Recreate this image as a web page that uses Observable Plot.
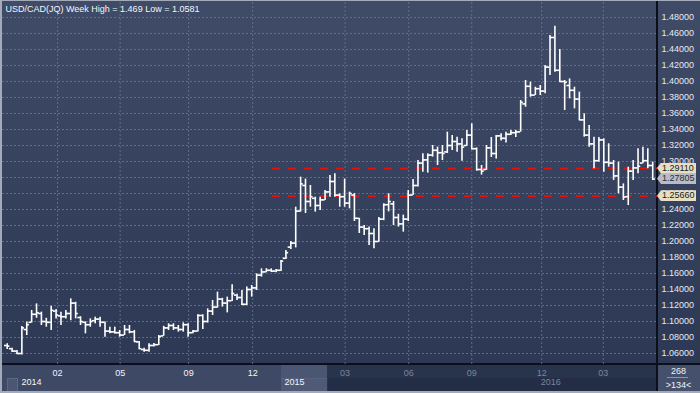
<!DOCTYPE html>
<html><head><meta charset="utf-8">
<script src="https://cdn.jsdelivr.net/npm/d3@7"></script>
<script src="https://cdn.jsdelivr.net/npm/@observablehq/plot@0.6"></script>
<style>
html,body{margin:0;padding:0;background:#2c3854;}
#wrap{position:relative;width:700px;height:393px;overflow:hidden;font-family:"Liberation Sans",Arial,sans-serif;}
.bg{position:absolute;}
#wrap svg{position:absolute;left:0;top:0;}
.info{position:absolute;color:#f2f4f8;font-size:9px;text-align:center;width:43px;left:657px;}
.tag{position:absolute;left:657px;width:39px;height:11px;font-size:9px;line-height:11px;padding-left:5px;box-sizing:border-box;
  clip-path:polygon(0 50%,4px 0,100% 0,100% 100%,4px 100%);}
</style></head><body>
<div id="wrap">
  <div class="bg" style="left:0;top:0;width:700px;height:365px;background:linear-gradient(#3f4b67,#2c3854);"></div>
  <div class="bg" style="left:0;top:365px;width:281px;height:28px;background:#3d4965;"></div>
  <div class="bg" style="left:281px;top:365px;width:47px;height:28px;background:#4a5672;"></div>
  <div class="bg" style="left:281px;top:378px;width:46px;height:15px;background:#4e5a76;border-top:1px solid #56627e;"></div>
  <div class="bg" style="left:327px;top:365px;width:1px;height:28px;background:#2a344c;"></div>
  <div class="bg" style="left:328px;top:365px;width:329px;height:13px;background:#28334c;"></div>
  <div class="bg" style="left:328px;top:378px;width:329px;height:15px;background:#232d45;"></div>
  <div class="bg" style="left:7px;top:378px;width:9px;height:13px;background:#4a5672;border:1px solid #5b6783;"></div>
  <div class="bg" style="left:657px;top:365px;width:43px;height:28px;background:#44506c;"></div>
  <div class="bg" style="left:0;top:363px;width:700px;height:2px;background:#0b0f1a;"></div>
  <div class="bg" style="left:656px;top:0;width:2px;height:393px;background:#0b0f1a;"></div>
  <div class="bg" style="left:667px;top:377px;width:21px;height:1px;background:#8d95a6;"></div>
  <div class="info" style="top:366px;">268</div>
  <div class="info" style="top:380px;">&gt;134&lt;</div>
  <div class="bg" style="left:0;top:0;width:2px;height:393px;background:#a3abbb;"></div>
  <div class="bg" style="left:0;top:0;width:700px;height:1px;background:#a3abbb;"></div>
  <div class="bg" style="left:0;top:391px;width:700px;height:2px;background:#a3abbb;"></div>
</div>
<script>
const title = "USD/CAD(JQ) Week High = 1.469 Low = 1.0581";

const openP = [1.0700,1.0660,1.0630,1.0600,1.0900,1.0990,1.1090,1.1100,1.1000,1.0990,
1.1130,1.1070,1.1060,1.1100,1.1230,1.1050,1.0990,1.0960,1.1010,1.1030,
1.0990,1.0880,1.0870,1.0860,1.0830,1.0900,1.0870,1.0745,1.0650,1.0640,
1.0700,1.0710,1.0820,1.0920,1.0950,1.0920,1.0900,1.0960,1.0860,1.0880,
1.1075,1.1000,1.1130,1.1180,1.1280,1.1230,1.1260,1.1330,1.1300,1.1215,
1.1400,1.1420,1.1580,1.1620,1.1640,1.1630,1.1640,1.1790,1.1930,1.1980,
1.2380,1.2700,1.2500,1.2540,1.2450,1.2520,1.2620,1.2750,1.2580,1.2560,
1.2480,1.2580,1.2290,1.2180,1.2160,1.2100,1.2000,1.2280,1.2460,1.2470,
1.2300,1.2220,1.2280,1.2580,1.2700,1.2980,1.3020,1.3080,1.3140,1.3110,
1.3120,1.3200,1.3250,1.3220,1.3200,1.3330,1.3160,1.2900,1.2900,1.3170,
1.3100,1.3320,1.3290,1.3340,1.3360,1.3370,1.3720,1.3940,1.3830,1.3910,
1.3880,1.4180,1.4550,1.4140,1.4000,1.3950,1.3890,1.3780,1.3520,1.3330,
1.3220,1.3010,1.3270,1.2990,1.2980,1.2820,1.2680,1.2560,1.2880,1.2920,
1.2980,1.3010,1.2950];
const highP = [1.0721,1.0667,1.0638,1.0938,1.0992,1.1138,1.1220,1.1117,1.1040,1.1190,
1.1150,1.1117,1.1138,1.1283,1.1240,1.1060,1.0995,1.1033,1.1054,1.1054,
1.0995,1.0929,1.0929,1.0888,1.0950,1.0950,1.0888,1.0750,1.0667,1.0721,
1.0725,1.0825,1.0940,1.0971,1.0971,1.0950,1.0983,1.0971,1.0888,1.1083,
1.1083,1.1158,1.1263,1.1367,1.1290,1.1305,1.1458,1.1340,1.1388,1.1430,
1.1450,1.1596,1.1658,1.1660,1.1658,1.1650,1.1763,1.1888,1.2000,1.2429,
1.2804,1.2780,1.2700,1.2554,1.2554,1.2638,1.2825,1.2846,1.2596,1.2780,
1.2617,1.2600,1.2290,1.2200,1.2180,1.2160,1.2300,1.2471,1.2596,1.2500,
1.2340,1.2330,1.2638,1.2775,1.3012,1.3096,1.3096,1.3200,1.3180,1.3200,
1.3367,1.3325,1.3304,1.3283,1.3388,1.3471,1.3170,1.2950,1.3200,1.3300,
1.3325,1.3346,1.3367,1.3388,1.3388,1.3763,1.4013,1.3992,1.3929,1.3950,
1.4200,1.4575,1.4690,1.4400,1.4013,1.4033,1.3929,1.3867,1.3596,1.3450,
1.3304,1.3300,1.3283,1.3221,1.3013,1.2992,1.2720,1.2929,1.3013,1.3158,
1.3179,1.3158,1.2992];
const lowP = [1.0650,1.0617,1.0588,1.0581,1.0825,1.0980,1.1040,1.0950,1.0929,1.0888,
1.1030,1.0950,1.1030,1.1010,1.1033,1.0950,1.0846,1.0929,1.0971,1.0929,
1.0804,1.0846,1.0846,1.0804,1.0825,1.0846,1.0742,1.0650,1.0617,1.0617,
1.0680,1.0700,1.0815,1.0888,1.0888,1.0867,1.0867,1.0804,1.0846,1.0870,
1.0900,1.0980,1.1075,1.1167,1.1180,1.1108,1.1250,1.1263,1.1200,1.1200,
1.1305,1.1388,1.1555,1.1610,1.1615,1.1610,1.1625,1.1775,1.1900,1.1920,
1.2367,1.2350,1.2429,1.2367,1.2388,1.2513,1.2554,1.2554,1.2429,1.2429,
1.2408,1.2250,1.2100,1.2075,1.1950,1.1908,1.1992,1.2260,1.2370,1.2200,
1.2180,1.2117,1.2250,1.2575,1.2680,1.2867,1.2855,1.3055,1.2950,1.3012,
1.3100,1.3138,1.3117,1.3004,1.3190,1.3146,1.2880,1.2830,1.2890,1.3050,
1.3030,1.3255,1.3230,1.3325,1.3300,1.3367,1.3679,1.3804,1.3825,1.3825,
1.3846,1.4075,1.4117,1.3992,1.3638,1.3783,1.3658,1.3513,1.3304,1.3179,
1.2908,1.2990,1.2867,1.2929,1.2763,1.2596,1.2513,1.2450,1.2763,1.2846,
1.2971,1.2908,1.2763];
const closeP = [1.0692,1.0630,1.0600,1.0920,1.0960,1.1090,1.1110,1.1000,1.0990,1.1140,
1.1080,1.1060,1.1100,1.1230,1.1100,1.1000,1.0960,1.1000,1.1030,1.0990,
1.0880,1.0870,1.0860,1.0830,1.0900,1.0870,1.0750,1.0660,1.0640,1.0700,
1.0710,1.0810,1.0920,1.0950,1.0920,1.0900,1.0960,1.0860,1.0880,1.1075,
1.1000,1.1130,1.1180,1.1280,1.1230,1.1260,1.1350,1.1300,1.1215,1.1400,
1.1420,1.1580,1.1620,1.1640,1.1630,1.1640,1.1755,1.1860,1.1980,1.2380,
1.2720,1.2500,1.2560,1.2450,1.2520,1.2620,1.2750,1.2580,1.2560,1.2480,
1.2600,1.2290,1.2180,1.2160,1.2100,1.2000,1.2280,1.2460,1.2500,1.2300,
1.2220,1.2280,1.2580,1.2700,1.2980,1.3020,1.3080,1.3140,1.3110,1.3100,
1.3200,1.3250,1.3220,1.3180,1.3330,1.3160,1.2900,1.2880,1.3170,1.3100,
1.3320,1.3290,1.3340,1.3360,1.3370,1.3740,1.3940,1.3830,1.3910,1.3880,
1.4180,1.4550,1.4140,1.4000,1.3990,1.3890,1.3780,1.3520,1.3330,1.3220,
1.3010,1.3270,1.2990,1.2980,1.2820,1.2680,1.2555,1.2880,1.2920,1.2940,
1.3010,1.2950,1.27805];

const yTicks = [1.06,1.08,1.10,1.12,1.14,1.16,1.18,1.20,1.22,1.24,1.26,1.28,1.30,1.32,1.34,1.36,1.38,1.40,1.42,1.44,1.46,1.48];
const monthPos = [10.3,23.1,37.1,50.2,69.1,82.1,95.0,109.3,121.9];
const monthLabels = ["02","05","09","12","03","06","09","12","03"];
const monthBright = 4;
const yearPos = [2.9,56.7,109.1];
const yearLabels = ["2014","2015","2016"];
const yearBright = 2;
const levels = [{price:1.2911, from:54.2},{price:1.2566, from:54.2}];
const tags = [{price:1.2911,label:"1.29110",kind:"level"},{price:1.27805,label:"1.27805",kind:"last"},{price:1.2566,label:"1.25660",kind:"level"}];

const xMin = -0.96, xMax = 132.98;
const yDomain = [1.045, 1.49875];
const bars = openP.map((o,i)=>({i, open:o, high:highP[i], low:lowP[i], close:closeP[i]}));
const monthLab = new Map(monthPos.map((p,k)=>[p, monthLabels[k]]));
const years = yearPos.map((p,k)=>({pos:p, label:yearLabels[k], bright:k<yearBright}));

const plot = Plot.plot({
  width:700, height:393,
  marginTop:2, marginRight:43, marginBottom:28, marginLeft:2,
  style:{background:"transparent", fontSize:"9px", fontFamily:"Liberation Sans, Arial, sans-serif", overflow:"visible"},
  x:{domain:[xMin,xMax], axis:null, label:null},
  y:{domain:yDomain, axis:null, label:null},
  marks:[
    Plot.gridY(yTicks,{stroke:"#6b7894", strokeOpacity:0.8, strokeDasharray:"2,2"}),
    Plot.gridX(monthPos,{stroke:"#6b7894", strokeOpacity:0.8, strokeDasharray:"2,2"}),
    Plot.ruleY(levels,{y:"price", x1:"from", x2:()=>xMax, stroke:"#e41010", strokeWidth:2, strokeDasharray:"8,8"}),
    Plot.ruleX(bars,{x:"i", y1:"low", y2:"high", stroke:"#ffffff", strokeWidth:1.6}),
    Plot.ruleY(bars,{y:"open", x1:d=>d.i-0.55, x2:"i", stroke:"#ffffff", strokeWidth:1.6}),
    Plot.ruleY(bars,{y:"close", x1:"i", x2:d=>d.i+0.55, stroke:"#ffffff", strokeWidth:1.6}),
    Plot.axisY(yTicks,{anchor:"right", tickSize:0, tickPadding:4, tickFormat:d=>d.toFixed(5), fill:"#e6e9f0"}),
    Plot.axisX(monthPos.slice(0,monthBright),{anchor:"bottom", tickSize:0, tickPadding:4, tickFormat:d=>monthLab.get(d), fill:"#f4f6fa"}),
    Plot.axisX(monthPos.slice(monthBright),{anchor:"bottom", tickSize:0, tickPadding:4, tickFormat:d=>monthLab.get(d), fill:"#7a859b"}),
    Plot.text(years.filter(d=>d.bright),{x:"pos", text:"label", frameAnchor:"bottom", dy:19, textAnchor:"start", fill:"#f4f6fa"}),
    Plot.text(years.filter(d=>!d.bright),{x:"pos", text:"label", frameAnchor:"bottom", dy:19, textAnchor:"start", fill:"#7a859b"}),
    Plot.text([title],{text:d=>d, frameAnchor:"top-left", dx:3, dy:3, lineAnchor:"top", textAnchor:"start", fill:"#f4f6fa"})
  ]
});
const wrap = document.getElementById("wrap");
wrap.appendChild(plot);

// price tags on the right axis (drawn over the axis labels), positioned with the plot's own y scale
let ys;
try { const s = plot.scale("y"); ys = v => s.apply(v); } catch(e) { ys = null; }
if (!ys) ys = v => 365 - (v - yDomain[0]) / (yDomain[1] - yDomain[0]) * 363;
tags.forEach(t=>{
  const el = document.createElement("div");
  el.className = "tag";
  el.textContent = t.label;
  const last = t.kind === "last";
  el.style.top = (ys(t.price) - 5.5) + "px";
  el.style.background = last ? "#b7bcc7" : "#e4dfc5";
  el.style.color = last ? "#2a2e38" : "#1c1c14";
  wrap.appendChild(el);
});
</script>
</body></html>
